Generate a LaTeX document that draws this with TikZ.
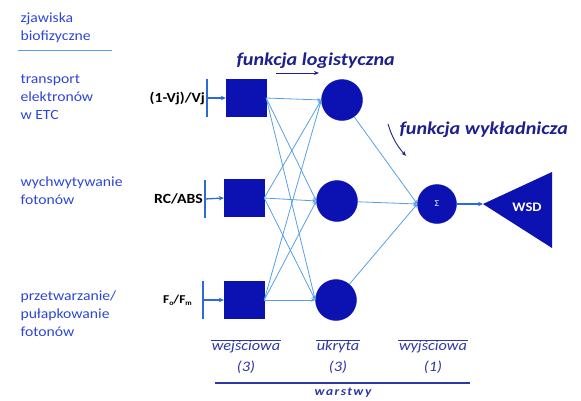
\documentclass[tikz,border=0pt]{standalone}
\usepackage{fontspec}
\setmainfont{Carlito}[FakeStretch=1.12]
\usetikzlibrary{arrows.meta,shapes.geometric}
\definecolor{dark}{RGB}{12,18,178}
\definecolor{wire}{RGB}{85,160,230}
\definecolor{mid}{RGB}{45,105,215}
\definecolor{lbl}{RGB}{45,70,215}
\definecolor{fn}{RGB}{30,32,140}
\definecolor{lay}{RGB}{45,55,165}
\begin{document}
\begin{tikzpicture}[x=1pt,y=-1pt,
  inbox/.style={fill=dark,draw=dark,minimum width=40pt,minimum height=37pt,inner sep=0pt},
  hid/.style={circle,fill=dark,draw=dark,minimum size=41pt,inner sep=0pt},
  outn/.style={circle,fill=dark,draw=dark,minimum size=39pt,inner sep=0pt},
  side/.style={anchor=west,align=left,text=lbl,font=\fontsize{14}{18}\selectfont},
  inlbl/.style={anchor=east,font=\bfseries\fontsize{14}{16}\selectfont,text=black,inner sep=1pt},
  conn/.style={wire,line width=0.8pt,-{Stealth[length=4pt,width=3.5pt]}},
  feed/.style={mid,line width=1.6pt,-{Stealth[length=5pt,width=4.5pt]}},
  fnlbl/.style={text=fn,font=\bfseries\itshape\fontsize{18}{20}\selectfont},
  fnarr/.style={fn,line width=0.9pt,-{Stealth[length=5pt,width=4pt]}},
  laylbl/.style={text=lay,font=\itshape\fontsize{14.5}{16}\selectfont,inner sep=1pt},
  bar/.style={mid,line width=1.6pt}]
\useasboundingbox (0,0) rectangle (581,400);
% left column
\node[side] (zj) at (17,28) {zjawiska\\biofizyczne};
\coordinate (zl1) at (18,50);
\coordinate (zl2) at (112,50);
\draw[wire,line width=0.9pt] (zl1) -- (zl2);
\node[side] (t1) at (17,97) {transport\\elektronów\\w ETC};
\node[side] (t2) at (17,191) {wychwytywanie\\fotonów};
\node[side] (t3) at (17,314) {przetwarzanie/\\pułapkowanie\\fotonów};
% input layer
\node[inbox] (s1) at (246,98) {};
\node[inbox] (s2) at (244,198) {};
\node[inbox] (s3) at (244,300) {};
\coordinate (b1) at (207,98);
\coordinate (b2) at (205,199);
\coordinate (b3) at (203,300);
\foreach \i/\s in {1/s1,2/s2,3/s3}{
  \draw[bar] ([yshift=-19pt]b\i) -- ([yshift=19pt]b\i);
  \draw[feed,line width=1.3pt] (b\i) -- (\s.west);
}
\node[inlbl] (in1) at (b1) [xshift=-1pt] {(1-Vj)/Vj};
\node[inlbl] (in2) at (b2) [xshift=-1pt] {RC/ABS};
\node[inlbl,font=\bfseries\fontsize{12}{14}\selectfont] (in3) at (b3) [xshift=-10pt] {F\raisebox{-0.4ex}{\fontsize{7}{8}\selectfont o}/F\raisebox{-0.4ex}{\fontsize{7}{8}\selectfont m}};
% hidden layer
\node[hid] (h1) at (342,100) {};
\node[hid] (h2) at (337,201) {};
\node[hid] (h3) at (336,300) {};
\foreach \s in {s1,s2,s3}{
  \foreach \h in {h1,h2,h3}{
    \draw[conn] (\s.east) -- (\h.west);
  }
}
% output
\node[outn] (o) at (437,204) {\textcolor{white}{\fontsize{9}{10}\selectfont Σ}};
\foreach \h in {h1,h2,h3}{
  \draw[conn] (\h) -- (o.west);
}
\coordinate (tip) at (483,204);
\fill[dark] (tip) -- (552,172) -- (552,248) -- cycle;
\node[text=white,font=\bfseries\fontsize{13}{14}\selectfont] (wsd) at (527,207) {WSD};
\draw[feed] (o.east) -- (tip);
% function labels
\node[fnlbl,anchor=west] (fl) at (233,61) {funkcja logistyczna};
\coordinate (fla) at (276,73);
\coordinate (flb) at (319,73);
\draw[fnarr] (fla) -- (flb);
\node[fnlbl,anchor=west] (fw) at (396,130) {funkcja wykładnicza};
\coordinate (fwa) at (388,124);
\coordinate (fwb) at (406,156);
\draw[fnarr] (fwa) to[bend right=12] (fwb);
% layer labels
\node[laylbl] (l1) at (246,347) {wejściowa};
\node[laylbl] (n1) at (246,367) {(3)};
\node[laylbl] (l2) at (338,347) {ukryta};
\node[laylbl] (n2) at (338,367) {(3)};
\node[laylbl] (l3) at (433,347) {wyjściowa};
\node[laylbl] (n3) at (433,367) {(1)};
\foreach \l in {l1,l2,l3}{
  \draw[lay,line width=0.7pt] ([yshift=-1pt]\l.north west) -- ([yshift=-1pt]\l.north east);
}
\coordinate (wl1) at (215,383);
\coordinate (wl2) at (470,383);
\draw[lay,line width=1.1pt] (wl1) -- (wl2);
\node[text=lay,font=\bfseries\itshape\fontsize{12}{13}\selectfont] (wa) at (343,393) {\addfontfeature{LetterSpace=12}warstwy};
\end{tikzpicture}
\end{document}
